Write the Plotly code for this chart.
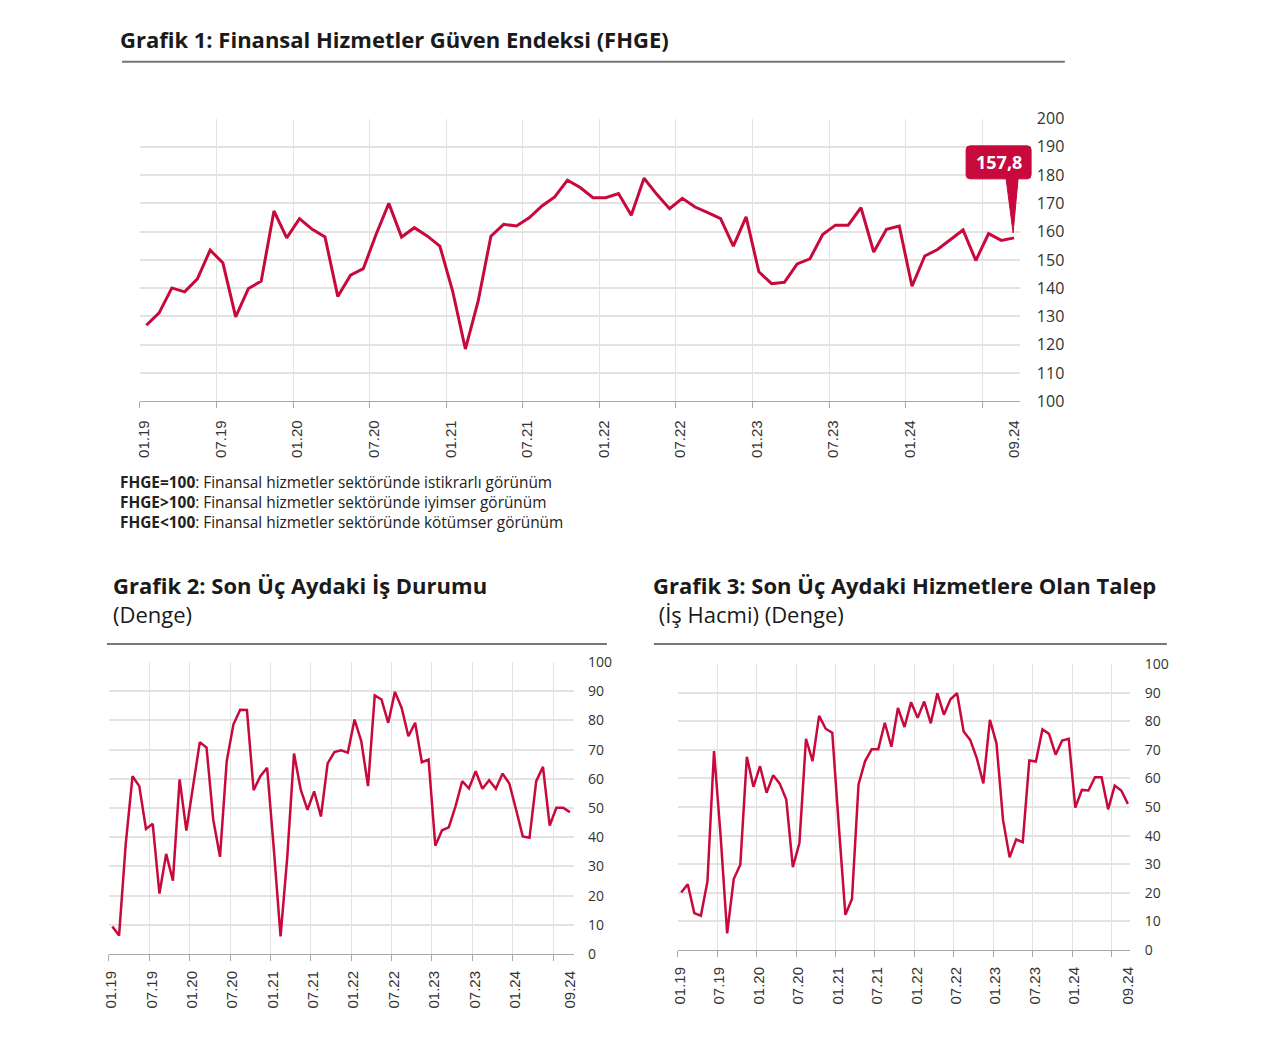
import plotly.graph_objects as go

# ---------------- data ----------------
fhge = [126.9, 131.3, 140.1, 138.7, 143.3, 153.5, 148.9, 129.9, 139.9, 142.5,
        167.3, 157.8, 164.6, 160.8, 158.1, 137.1, 144.6, 146.9, 159.0, 170.0,
        158.1, 161.4, 158.5, 154.9, 139.0, 118.5, 135.4, 158.4, 162.6, 162.0,
        164.9, 169.1, 172.3, 178.2, 175.6, 172.0, 172.0, 173.5, 165.8, 178.9,
        173.2, 168.1, 171.8, 168.7, 166.7, 164.6, 154.9, 165.2, 145.8, 141.6,
        142.1, 148.6, 150.4, 159.0, 162.3, 162.3, 168.5, 152.8, 160.8, 162.0,
        140.7, 151.4, 153.7, 157.3, 160.6, 149.8, 159.3, 156.9, 157.8]

is_durumu = [9.4, 6.3, 38.0, 60.9, 57.5, 42.8, 44.6, 20.7, 34.3, 25.1,
             59.8, 42.3, 57.5, 72.6, 70.7, 46.0, 33.3, 66.1, 78.7, 83.7,
             83.6, 56.1, 60.9, 63.8, 36.0, 6.0, 33.3, 68.7, 56.3, 49.4,
             55.7, 47.1, 65.3, 69.2, 69.8, 69.0, 80.3, 72.9, 57.5, 88.6,
             87.2, 79.2, 89.8, 84.3, 74.6, 79.2, 65.7, 66.6, 37.1, 42.4,
             43.4, 50.6, 59.2, 56.7, 62.6, 56.6, 59.5, 56.6, 61.8, 58.4,
             49.5, 40.3, 39.8, 59.2, 64.1, 44.0, 50.1, 50.1, 48.6]

talep = [20.1, 23.0, 12.9, 12.0, 24.0, 69.6, 40.0, 5.8, 24.8, 29.8,
         67.6, 57.1, 64.3, 55.0, 61.1, 58.2, 52.6, 29.0, 37.4, 73.9,
         66.1, 81.9, 77.4, 76.0, 43.3, 12.3, 17.8, 57.9, 66.1, 70.2,
         70.2, 79.5, 71.1, 84.7, 78.0, 86.7, 81.2, 86.9, 79.3, 89.8,
         82.3, 87.7, 89.8, 76.4, 73.5, 67.1, 58.3, 80.5, 72.3, 45.5,
         32.4, 38.7, 37.7, 66.3, 65.9, 77.2, 75.6, 68.3, 73.3, 73.9,
         49.8, 56.0, 55.8, 60.4, 60.4, 49.2, 57.5, 55.8, 51.1]

tick_labels = ["01.19", "07.19", "01.20", "07.20", "01.21", "07.21",
               "01.22", "07.22", "01.23", "07.23", "01.24"]
last_label = "09.24"
last_value_text = "157,8"

# ---------------- layout helpers ----------------
W, H = 1280, 1042
RED = "#c8093b"
GRID = "#e3e3e3"
AXIS = "#a8a8a8"
TXT = "#333333"

# compensation for the capture's offset / scale
OX, KX = 8.0, 0.990
OY, KY = 13.8, 0.976


def fx(x):
    return ((x - OX) / KX) / W


def fy(y):
    return 1 - ((y - OY) / KY) / H


n = len(fhge)
xs = list(range(n))
# grid/tick positions at half-year boundaries (incl. the unlabeled 07.24)
grid_pos = [i * 6 - 0.5 for i in range(len(tick_labels) + 1)]
# labels sit slightly right of the boundary, last label at the last month
label_pos = [p + 0.35 for p in grid_pos[:len(tick_labels)]] + [xs[-1]]
label_txt = tick_labels + [last_label]

fig = go.Figure()
fig.add_trace(go.Scatter(x=xs, y=fhge, mode="lines", line=dict(color=RED, width=3),
                         xaxis="x", yaxis="y", hoverinfo="skip"))
fig.add_trace(go.Scatter(x=xs, y=is_durumu, mode="lines", line=dict(color=RED, width=2.5),
                         xaxis="x2", yaxis="y2", hoverinfo="skip"))
fig.add_trace(go.Scatter(x=xs, y=talep, mode="lines", line=dict(color=RED, width=2.5),
                         xaxis="x3", yaxis="y3", hoverinfo="skip"))
# invisible helpers for the overlay axes carrying the labels
for xa, ya, arr in (("x4", "y", fhge), ("x5", "y2", is_durumu), ("x6", "y3", talep)):
    fig.add_trace(go.Scatter(x=[xs[-1]], y=[arr[-1]], mode="markers",
                             marker=dict(opacity=0), xaxis=xa, yaxis=ya, hoverinfo="skip"))


def xax(domain, rng):
    return dict(domain=domain, range=rng, tickmode="array", tickvals=grid_pos,
                ticktext=[""] * len(grid_pos), showgrid=True, gridcolor=GRID,
                gridwidth=1.2, ticks="outside", ticklen=6, tickcolor=AXIS,
                showline=True, linecolor=AXIS, linewidth=1.2, zeroline=False,
                fixedrange=True)


def xover(over, anchor, rng, size, standoff):
    return dict(overlaying=over, range=rng, tickmode="array", tickvals=label_pos,
                ticktext=label_txt, tickangle=-90, showgrid=False, ticks="outside",
                ticklen=6, tickcolor="rgba(0,0,0,0)", showline=False, zeroline=False,
                side="bottom", anchor=anchor,
                tickfont=dict(family="Liberation Sans, Arial", size=size, color=TXT),
                ticklabelstandoff=standoff, fixedrange=True)


def yax(domain, rng, size, standoff, anchor):
    return dict(domain=domain, range=rng, dtick=10, side="right", anchor=anchor,
                showgrid=True, gridcolor=GRID, gridwidth=1.5, showline=False,
                zeroline=False, ticks="",
                tickfont=dict(family="Open Sans", size=size, color=TXT),
                ticklabelstandoff=standoff, fixedrange=True)


r1 = [-0.5, 68.45]
r2 = [-0.5, 68.6]
r3 = [-0.5, 68.3]
y1r = [100, 200]
x1dom = [fx(141), fx(1021)]
y1dom = [fy(403), fy(121)]

fig.update_layout(
    width=W, height=H, margin=dict(l=0, r=0, t=0, b=0),
    paper_bgcolor="white", plot_bgcolor="white", showlegend=False,
    xaxis=dict(**xax(x1dom, r1), anchor="y"),
    yaxis=yax(y1dom, y1r, 16, 16, "x"),
    xaxis2=dict(**xax([fx(110), fx(575)], r2), anchor="y2"),
    yaxis2=yax([fy(954), fy(663)], [0, 100], 14, 13, "x2"),
    xaxis3=dict(**xax([fx(679), fx(1131)], r3), anchor="y3"),
    yaxis3=yax([fy(950), fy(665)], [0, 100], 14, 14, "x3"),
    xaxis4=xover("x", "y", r1, 15, 6),
    xaxis5=xover("x2", "y2", r2, 15, 4),
    xaxis6=xover("x3", "y3", r3, 15, 4),
)

# value call-out: rounded box with pointer, anchored on the last point
# (anchor converted from data to paper space via the axis scale so it is not clipped)
ax_paper = x1dom[0] + (xs[-1] - r1[0]) / (r1[1] - r1[0]) * (x1dom[1] - x1dom[0])
ay_paper = y1dom[0] + (fhge[-1] - y1r[0]) / (y1r[1] - y1r[0]) * (y1dom[1] - y1dom[0])
callout_path = ("M -44,92 L 13,92 Q 17,92 17,88 L 17,63 Q 17,59 13,59 "
                "L 4,59 L -1,5 L -8,59 L -44,59 Q -48,59 -48,63 L -48,88 "
                "Q -48,92 -44,92 Z")
fig.add_shape(type="path", xref="paper", yref="paper", xsizemode="pixel", ysizemode="pixel",
              xanchor=ax_paper, yanchor=ay_paper, path=callout_path,
              fillcolor=RED, line=dict(color=RED, width=1), layer="above")
fig.add_annotation(x=ax_paper, y=ay_paper, xref="paper", yref="paper",
                   text="<b>" + last_value_text + "</b>", showarrow=False,
                   xanchor="center", yanchor="middle",
                   xshift=-15.5, yshift=75.5,
                   font=dict(family="Open Sans", size=18, color="white"))

# titles (title + subtitle in one block each)
titles = [
    ("<b>Grafik 1: Finansal Hizmetler Güven Endeksi (FHGE)</b>", 119, 42),
    ("<b>Grafik 2: Son Üç Aydaki İş Durumu</b><br>(Denge)", 112, 601),
    ("<b>Grafik 3: Son Üç Aydaki Hizmetlere Olan Talep</b><br> (İş Hacmi) (Denge)", 652, 601),
]
for t, x, y in titles:
    fig.add_annotation(text=t, x=fx(x), y=fy(y), xref="paper", yref="paper",
                       xanchor="left", yanchor="middle", align="left", showarrow=False,
                       font=dict(family="Open Sans", size=22, color="#1a1a1a"))

notes = ("<b>FHGE=100</b>: Finansal hizmetler sektöründe istikrarlı görünüm<br>"
         "<b>FHGE&gt;100</b>: Finansal hizmetler sektöründe iyimser görünüm<br>"
         "<b>FHGE&lt;100</b>: Finansal hizmetler sektöründe kötümser görünüm")
fig.add_annotation(text=notes, x=fx(119), y=fy(503.5), xref="paper", yref="paper",
                   xanchor="left", yanchor="middle", align="left", showarrow=False,
                   font=dict(family="Open Sans", size=15.4, color="#222222"))

# title rules
for x0, x1, y in ((123, 1066, 64.5), (108, 608, 645), (655, 1168, 645)):
    fig.add_shape(type="line", xref="paper", yref="paper",
                  x0=fx(x0), x1=fx(x1), y0=fy(y), y1=fy(y),
                  line=dict(color="#777777", width=2))

fig.write_html(
    "out.html",
    config={"displayModeBar": False},
    post_script="document.body.style.margin='0';document.body.style.overflow='hidden';",
)
